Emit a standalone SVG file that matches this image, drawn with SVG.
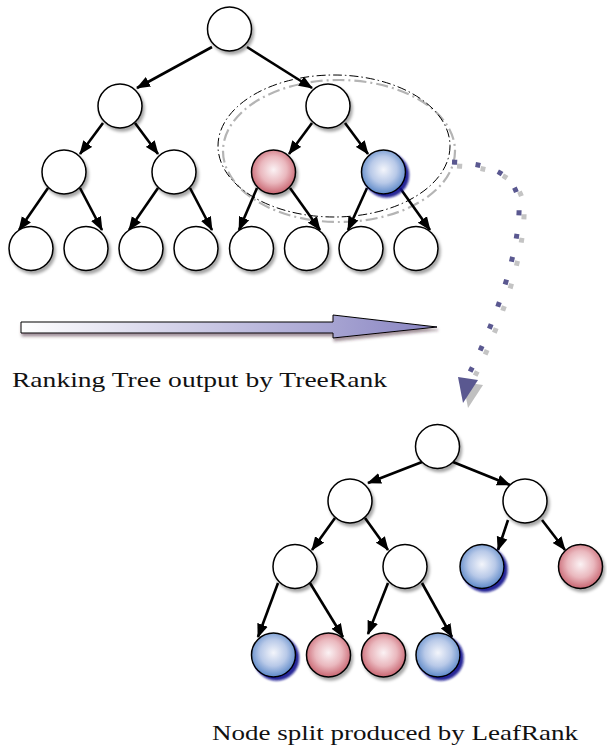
<svg xmlns="http://www.w3.org/2000/svg" width="607" height="755" viewBox="0 0 607 755">
<style>
.n{fill:#fff;stroke:#000;stroke-width:1.5;filter:url(#sh)}
.r{fill:url(#gr);stroke:#000;stroke-width:1.5;filter:url(#sh)}
.b{fill:url(#gb);stroke:#000;stroke-width:1.5;filter:url(#shb)}
.e{stroke:#000;stroke-width:2.6;fill:none;marker-end:url(#ah)}
.t{font-family:"Liberation Serif","DejaVu Serif",serif;fill:#111}
</style>
<defs>
<filter id="sh" x="-30%" y="-30%" width="170%" height="170%"><feDropShadow dx="2" dy="3" stdDeviation="1.5" flood-color="#000" flood-opacity="0.35"/></filter>
<filter id="shb" x="-30%" y="-30%" width="170%" height="170%"><feDropShadow dx="3" dy="3" stdDeviation="1" flood-color="#10108a" flood-opacity="0.9"/></filter>
<filter id="sha" x="-10%" y="-50%" width="120%" height="200%"><feDropShadow dx="1" dy="3" stdDeviation="1.5" flood-color="#402030" flood-opacity="0.5"/></filter>
<radialGradient id="gr" cx="0.5" cy="0.45" r="0.55"><stop offset="0" stop-color="#fbf2f4"/><stop offset="0.55" stop-color="#eab8be"/><stop offset="1" stop-color="#c86470"/></radialGradient>
<radialGradient id="gb" cx="0.5" cy="0.45" r="0.55"><stop offset="0" stop-color="#f3f5fb"/><stop offset="0.55" stop-color="#b8c9e8"/><stop offset="1" stop-color="#5c88c8"/></radialGradient>
<linearGradient id="ga" x1="21" y1="0" x2="437" y2="0" gradientUnits="userSpaceOnUse"><stop offset="0" stop-color="#ffffff"/><stop offset="1" stop-color="#8884c2"/></linearGradient>
<marker id="ah" markerUnits="userSpaceOnUse" markerWidth="15" markerHeight="12" refX="13" refY="6" orient="auto"><path d="M0,0.5 L14,6 L0,11.5 z" fill="#000"/></marker>
</defs>

<g id="highlight">
<ellipse cx="339" cy="151" rx="116" ry="71" fill="none" stroke="#b4b4b4" stroke-width="2.2" stroke-dasharray="12 4 2 4"/>
<ellipse cx="334" cy="146" rx="116" ry="71" fill="none" stroke="#000" stroke-width="1" stroke-dasharray="9 3 1.5 3"/>
</g>

<g id="connectors">
<line class="e" x1="212" y1="47" x2="137" y2="88"/>
<line class="e" x1="247" y1="47" x2="312" y2="88"/>
<line class="e" x1="103" y1="123" x2="80" y2="154"/>
<line class="e" x1="135" y1="123" x2="158" y2="154"/>
<line class="e" x1="312" y1="123" x2="289" y2="154"/>
<line class="e" x1="345" y1="123" x2="368" y2="154"/>
<line class="e" x1="48" y1="188" x2="19" y2="230"/>
<line class="e" x1="80" y1="188" x2="102" y2="230"/>
<line class="e" x1="158" y1="188" x2="129" y2="230"/>
<line class="e" x1="190" y1="188" x2="212" y2="230"/>
<line class="e" x1="257" y1="188" x2="239" y2="230"/>
<line class="e" x1="290" y1="188" x2="320" y2="230"/>
<line class="e" x1="367" y1="188" x2="348" y2="230"/>
<line class="e" x1="400" y1="188" x2="430" y2="230"/>

<line class="e" x1="422" y1="462" x2="368" y2="483"/>
<line class="e" x1="453" y1="462" x2="510" y2="485"/>
<line class="e" x1="335" y1="518" x2="312" y2="550"/>
<line class="e" x1="365" y1="518" x2="388" y2="550"/>
<line class="e" x1="508" y1="520" x2="498" y2="550"/>
<line class="e" x1="542" y1="520" x2="565" y2="550"/>
<line class="e" x1="278" y1="583" x2="258" y2="637"/>
<line class="e" x1="310" y1="583" x2="343" y2="637"/>
<line class="e" x1="388" y1="583" x2="368" y2="634"/>
<line class="e" x1="422" y1="583" x2="452" y2="637"/>

<g id="dotted-arrow">
<path d="M457,166 C500,168 526,180 524,217 C522,265 498,330 474,378" fill="none" stroke="#c4c4c4" stroke-width="5" stroke-dasharray="5 18.5"/>
<path d="M463,382 L483,385 L468,408 z" fill="#c0c0c0"/>
<path d="M452,162 C495,164 521,176 519,213 C517,261 493,326 469,374" fill="none" stroke="#5a5890" stroke-width="5" stroke-dasharray="5 18.5"/>
<path d="M458,377 L478,380 L463,403 z" fill="#5a5890"/>
</g>
</g>

<g id="big-arrow">
<polygon points="21,322 333,322 333,315 437,327 333,338 333,333 21,333" fill="url(#ga)" stroke="#000" stroke-width="1" filter="url(#sha)"/>
</g>

<g id="tree1">
<g id="t-root"><circle class="n" cx="229.5" cy="29" r="22"/></g>
<g id="t-l"><circle class="n" cx="120" cy="106" r="22"/></g>
<g id="t-r"><circle class="n" cx="328" cy="106" r="22"/></g>
<g id="t-ll"><circle class="n" cx="64" cy="172" r="22"/></g>
<g id="t-lr"><circle class="n" cx="174" cy="172" r="22"/></g>
<g id="t-rl"><circle class="r" cx="273.5" cy="172" r="22"/></g>
<g id="t-rr"><circle class="b" cx="383.5" cy="172" r="22"/></g>
<g id="t-leaf1"><circle class="n" cx="31" cy="248.5" r="22"/></g>
<g id="t-leaf2"><circle class="n" cx="86" cy="248.5" r="22"/></g>
<g id="t-leaf3"><circle class="n" cx="141" cy="248.5" r="22"/></g>
<g id="t-leaf4"><circle class="n" cx="196" cy="248.5" r="22"/></g>
<g id="t-leaf5"><circle class="n" cx="251.5" cy="248.5" r="22"/></g>
<g id="t-leaf6"><circle class="n" cx="306.5" cy="248.5" r="22"/></g>
<g id="t-leaf7"><circle class="n" cx="361" cy="248.5" r="22"/></g>
<g id="t-leaf8"><circle class="n" cx="416" cy="248.5" r="22"/></g>
</g>

<g id="tree2">
<g id="b-root"><circle class="n" cx="437.5" cy="446.5" r="22"/></g>
<g id="b-l"><circle class="n" cx="350" cy="501" r="22"/></g>
<g id="b-r"><circle class="n" cx="525" cy="501" r="22"/></g>
<g id="b-ll"><circle class="n" cx="295" cy="566.5" r="22"/></g>
<g id="b-lr"><circle class="n" cx="405" cy="566.5" r="22"/></g>
<g id="b-rl"><circle class="b" cx="482" cy="566.5" r="22"/></g>
<g id="b-rr"><circle class="r" cx="580.5" cy="566.5" r="22"/></g>
<g id="b-leaf1"><circle class="b" cx="273.5" cy="655" r="22"/></g>
<g id="b-leaf2"><circle class="r" cx="328.5" cy="655" r="22"/></g>
<g id="b-leaf3"><circle class="r" cx="383.5" cy="655" r="22"/></g>
<g id="b-leaf4"><circle class="b" cx="438" cy="655" r="22"/></g>
</g>

<text class="t" x="12" y="387" font-size="21" textLength="375" lengthAdjust="spacingAndGlyphs">Ranking Tree output by TreeRank</text>
<text class="t" x="212" y="740" font-size="21" textLength="366" lengthAdjust="spacingAndGlyphs">Node split produced by LeafRank</text>
</svg>
